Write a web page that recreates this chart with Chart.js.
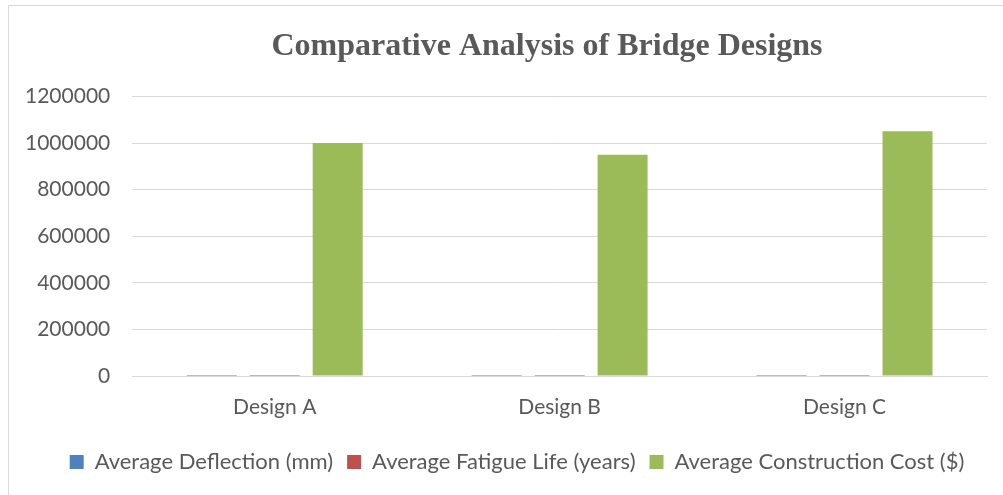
<!DOCTYPE html>
<html>
<head>
<meta charset="utf-8">
<script src="https://cdn.jsdelivr.net/npm/chart.js@4"></script>
<style>
  html, body { margin: 0; padding: 0; background: #fff; overflow: hidden; }
  #wrap { position: relative; width: 1003px; height: 495px; }
  #frame { position: absolute; left: 8px; top: 5px; width: 1100px; height: 600px;
           border: 1px solid #d9d9d9; box-sizing: border-box; }
  canvas { position: absolute; left: 0; top: 0; }
</style>
</head>
<body>
<div id="wrap">
  <div id="frame"></div>
  <canvas id="myChart" width="1003" height="495"></canvas>
</div>
<script>
const designs = ['Design A', 'Design B', 'Design C'];
const avgDeflection = [15, 12, 18];          // mm
const avgFatigueLife = [75, 80, 70];         // years
const avgCost = [1000000, 950000, 1050000];  // $
const yTicks = [0, 200000, 400000, 600000, 800000, 1000000, 1200000];

const textColor = '#595959';
const sans = 'Lato, "Open Sans", sans-serif';
const canvas = document.getElementById('myChart');

function series(label, data, color) {
    return {
        label,
        data,
        backgroundColor: color,
        borderWidth: 0,
        categoryPercentage: 0.663,
        barPercentage: 0.794
    };
}

// title and legend sit right of the plot's centre in the original
const nudgeBoxes = {
    id: 'nudgeBoxes',
    afterLayout(chart) {
        if (chart.titleBlock) {
            chart.titleBlock.left += 52;
            chart.titleBlock.right += 52;
        }
        if (chart.legend) {
            chart.legend.left += 22;
            chart.legend.right += 22;
        }
    }
};

const config = {
    type: 'bar',
    data: {
        labels: designs,
        datasets: [
            series('Average Deflection (mm)', avgDeflection, '#4F81BD'),
            series('Average Fatigue Life (years)', avgFatigueLife, '#C0504D'),
            series('Average Construction Cost ($)', avgCost, '#9BBB59')
        ]
    },
    options: {
        responsive: false,
        animation: false,
        layout: {
            padding: { left: 3, right: 16, top: 20, bottom: 12 }
        },
        plugins: {
            title: {
                display: true,
                text: 'Comparative Analysis of Bridge Designs',
                color: textColor,
                font: { family: '"Liberation Serif", "Times New Roman", serif', size: 32, weight: 'bold' },
                padding: { top: 8, bottom: 30 }
            },
            legend: {
                position: 'bottom',
                labels: {
                    color: textColor,
                    font: { family: sans, size: 22 },
                    boxWidth: 14,
                    boxHeight: 14,
                    padding: 14
                }
            },
            tooltip: { enabled: false }
        },
        scales: {
            x: {
                afterFit: scale => { scale.height = 61; },
                grid: { display: false },
                border: { color: '#d9d9d9' },
                ticks: {
                    color: textColor,
                    font: { family: sans, size: 21 },
                    padding: 11
                }
            },
            y: {
                min: 0,
                max: 1200000,
                afterBuildTicks: scale => {
                    scale.ticks = yTicks.map(v => ({ value: v }));
                },
                grid: { color: '#d9d9d9', drawTicks: false },
                border: { display: false },
                ticks: {
                    color: textColor,
                    font: { family: sans, size: 21 },
                    padding: 22,
                    callback: v => String(v)
                }
            }
        }
    },
    plugins: [nudgeBoxes]
};

new Chart(canvas, config);
</script>
</body>
</html>
